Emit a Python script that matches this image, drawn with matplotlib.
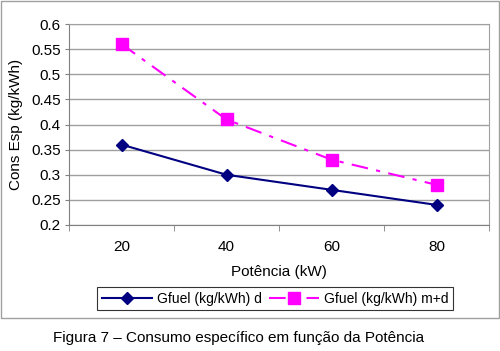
import matplotlib
matplotlib.use("Agg")
from matplotlib import pyplot as plt
from matplotlib.patches import Rectangle
from matplotlib.ticker import FuncFormatter, FixedLocator

plt.rcParams['font.family'] = ['Liberation Sans', 'DejaVu Sans']

potencia = [20, 40, 60, 80]
gfuel_d = [0.36, 0.30, 0.27, 0.24]
gfuel_md = [0.56, 0.41, 0.33, 0.28]

W, H = 500, 351
fig = plt.figure(figsize=(W / 100, H / 100), dpi=100)

# chart border
fig.patches.append(Rectangle((0.5 / W, 1 - 317.5 / H), 498.5 / W, 317 / H,
                             transform=fig.transFigure, fill=False,
                             edgecolor='#a0a0a0', linewidth=1))

ax = fig.add_axes([69 / W, 1 - 225 / H, 420 / W, 201 / H])
pos = list(range(len(potencia)))
ax.plot(pos, gfuel_d, color='#000080', marker='D', markersize=6,
        linewidth=1.5, label='Gfuel (kg/kWh) d')
ax.plot(pos, gfuel_md, color='#ff00ff', marker='s', markersize=8,
        linewidth=1.5, linestyle=(0, (8, 4, 2, 4)), label='Gfuel (kg/kWh) m+d')

ax.set_xlim(-0.5, 3.5)
ax.set_ylim(0.2, 0.6)
ax.set_yticks([0.2, 0.25, 0.3, 0.35, 0.4, 0.45, 0.5, 0.55, 0.6])
ax.yaxis.set_major_formatter(FuncFormatter(lambda v, p: ('%.2f' % v).rstrip('0').rstrip('.')))
ax.set_xticks(pos)
ax.set_xticklabels([str(p) for p in potencia])
ax.xaxis.set_minor_locator(FixedLocator([-0.5, 0.5, 1.5, 2.5, 3.5]))
ax.tick_params(axis='x', which='major', length=0, pad=11, labelsize=11)
ax.tick_params(axis='x', which='minor', length=4, color='#808080')
ax.tick_params(axis='y', length=3, color='#808080', labelsize=11, pad=3)
ax.grid(axis='y', color='#a0a0a0', linewidth=1)
ax.set_axisbelow(True)
for side in ['top', 'right']:
    ax.spines[side].set_color('#a0a0a0')
for side in ['left', 'bottom']:
    ax.spines[side].set_color('#808080')

ax.set_xlabel('Potência (kW)', fontsize=11, labelpad=8)
ax.set_ylabel('Cons Esp (kg/kWh)', fontsize=11, labelpad=6)

leg = fig.legend(loc='center', bbox_to_anchor=(275 / W, 1 - 298.5 / H), ncol=2,
                 fontsize=10, frameon=True, fancybox=False, edgecolor='#000000',
                 handlelength=3.6, columnspacing=0.5, handletextpad=0.35,
                 borderpad=0.35, borderaxespad=0.3)
leg.get_frame().set_linewidth(0.8)

fig.text(239 / W, 1 - 338 / H, 'Figura 7 – Consumo específico em função da Potência',
         ha='center', va='center', fontsize=11)

fig.savefig('out.png', dpi=100)
